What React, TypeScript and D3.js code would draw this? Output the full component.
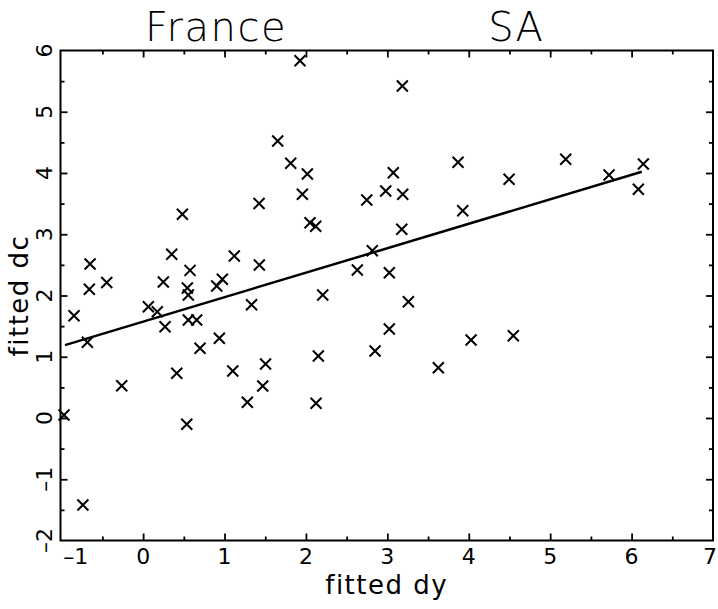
import React, { useRef, useEffect } from "react";
import * as d3 from "d3";

const W = 718;
const H = 609;

// scatter of fitted dy vs fitted dc
const fittedDy = [
  -0.652, -0.661, -0.447, -0.849, -0.685, -0.263, -0.972, -0.74,
  0.064, 0.174, 0.248, 0.269, 0.576, 0.543, 0.555, 0.555, 0.658, 0.699,
  0.413, 0.536, 0.904, 0.973, 0.936, 1.101, 1.28, 1.332, 1.427, 1.504,
  1.469, 0.351, 0.482, 1.12, 1.424, 1.927, 3.184, 1.653, 1.813, 2.017,
  1.956, 2.05, 2.12, 2.747, 2.98, 3.073, 3.189, 3.177, 3.868, 3.926,
  2.815, 2.631, 3.024, 2.206, 3.258, 3.024, 2.849, 4.028, 3.626, 2.152,
  2.124, 4.495, 5.191, 5.723, 6.083, 6.144, 4.547,
];
const fittedDc = [
  2.514, 2.101, 2.212, 1.67, 1.236, 0.527, 0.049, -1.42,
  1.817, 1.736, 2.22, 1.491, 2.41, 2.122, 2.008, 1.6, 1.6, 1.138,
  0.73, -0.103, 2.155, 2.266, 1.301, 0.767, 0.256, 1.85, 2.498, 0.882,
  0.522, 2.673, 3.326, 2.645, 3.502, 5.833, 5.42, 4.522, 4.158, 3.984,
  3.652, 3.189, 3.13, 3.559, 3.706, 4.005, 3.652, 3.081, 4.175, 3.384,
  2.731, 2.416, 2.372, 2.008, 1.899, 1.453, 1.094, 1.273, 0.821, 1.012,
  0.24, 3.897, 4.224, 3.967, 3.734, 4.147, 1.344,
];

// regression line end points
const fitDy = [-0.96, 6.125];
const fitDc = [1.19, 4.02];

const xTickValues = [-1, 0, 1, 2, 3, 4, 5, 6, 7];
const yTickValues = [-2, -1, 0, 1, 2, 3, 4, 5, 6];
const titles = ["France", "SA"];

const font = "'DejaVu Sans', sans-serif";

function App() {
  const axesRef = useRef<SVGGElement>(null);

  const x = d3.scaleLinear().domain([-1.015, 7]).range([60.5, 713]);
  const y = d3.scaleLinear().domain([-2, 6]).range([540.5, 50.5]);

  const xMinor = d3.range(-0.5, 7, 0.5).filter((v) => v % 1 !== 0);
  const yMinor = d3.range(-1.5, 6, 0.5).filter((v) => v % 1 !== 0);

  useEffect(() => {
    const g = d3.select(axesRef.current);
    g.selectAll("*").remove();

    const [x0, x1] = x.range();
    const [y0, y1] = y.range();
    const put = (axis: any, t: string, vals: number[], len: number) => {
      const a = g.append("g").attr("transform", t).call(
        axis.tickValues(vals).tickSizeInner(-len).tickSizeOuter(0).tickFormat(() => "")
      );
      a.select(".domain").remove();
      a.selectAll("line").attr("stroke", "#000").attr("stroke-width", 1.8);
    };
    const xMaj = xTickValues.filter((v) => v > -1 && v < 7);
    put(d3.axisBottom(x), `translate(0,${y0})`, xMaj, 7);
    put(d3.axisBottom(x), `translate(0,${y0})`, xMinor, 4);
    put(d3.axisTop(x), `translate(0,${y1})`, xMaj, 7);
    put(d3.axisTop(x), `translate(0,${y1})`, xMinor, 4);
    const yMaj = yTickValues.filter((v) => v > -2 && v < 6);
    put(d3.axisLeft(y), `translate(${x0},0)`, yMaj, 7);
    put(d3.axisLeft(y), `translate(${x0},0)`, yMinor, 4);
    put(d3.axisRight(y), `translate(${x1},0)`, yMaj, 7);
    put(d3.axisRight(y), `translate(${x1},0)`, yMinor, 4);
  }, []);

  const fitLine = d3
    .line<number>()
    .x((d) => x(d))
    .y((_, i) => y(fitDc[i]));

  const fmt = (v: number) => (v < 0 ? "\u2013" + Math.abs(v) : String(v));
  const last = xTickValues.length - 1;

  return (
    <svg
      width={W}
      height={H}
      style={{ position: "absolute", left: 0, top: 0, background: "#fff" }}
      fontFamily={font}
    >
      <rect x={0} y={0} width={W} height={H} fill="#fff" />

      {/* titles */}
      <text x={216} y={41} fontSize={40} fontWeight={200} textAnchor="middle" letterSpacing={1.5}>
        {titles[0]}
      </text>
      <text x={516} y={41} fontSize={40} fontWeight={200} textAnchor="middle" letterSpacing={1}>
        {titles[1]}
      </text>

      {/* frame */}
      <rect
        x={x.range()[0]}
        y={y.range()[1]}
        width={x.range()[1] - x.range()[0]}
        height={y.range()[0] - y.range()[1]}
        fill="none"
        stroke="#000"
        strokeWidth={2}
      />
      <g ref={axesRef} />

      {/* x tick labels */}
      {xTickValues.map((v, i) => (
        <text
          key={"xt" + v}
          x={i === 0 ? x(v) + 1.5 : i === last ? W - 1 : x(v)}
          y={564}
          fontSize={22}
          textAnchor={i === 0 ? "start" : i === last ? "end" : "middle"}
        >
          {fmt(v)}
        </text>
      ))}
      <text x={386.7} y={594} fontSize={26} textAnchor="middle" letterSpacing={1.5}>
        fitted dy
      </text>

      {/* y tick labels */}
      {yTickValues.map((v) => (
        <text
          key={"yt" + v}
          transform={`translate(52,${y(v)}) rotate(-90)`}
          fontSize={22}
          textAnchor="middle"
        >
          {fmt(v)}
        </text>
      ))}
      <text
        transform={`translate(28,${(y.range()[0] + y.range()[1]) / 2}) rotate(-90)`}
        fontSize={26}
        textAnchor="middle"
        letterSpacing={1.5}
      >
        fitted dc
      </text>

      {/* fit line */}
      <path d={fitLine(fitDy) || ""} fill="none" stroke="#000" strokeWidth={2.5} />

      {/* points */}
      {fittedDy.map((d, i) => (
        <path
          key={"p" + i}
          transform={`translate(${x(d)},${y(fittedDc[i])})`}
          d="M-5.5,-5.5L5.5,5.5M-5.5,5.5L5.5,-5.5"
          stroke="#000"
          strokeWidth={2}
          fill="none"
        />
      ))}
    </svg>
  );
}

export default App;
